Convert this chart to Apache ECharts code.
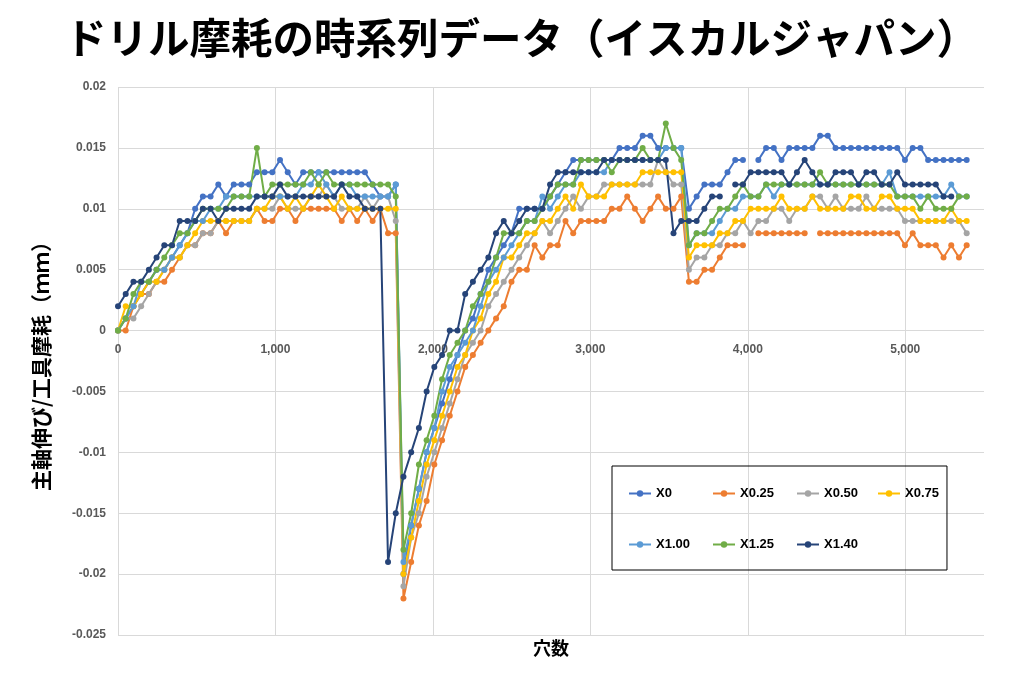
<!DOCTYPE html>
<html>
<head>
<meta charset="utf-8">
<script src="https://cdn.jsdelivr.net/npm/echarts@6/dist/echarts.min.js"></script>
<style>
html,body{margin:0;padding:0;background:#ffffff;}
#chart{width:1024px;height:682px;}
</style>
</head>
<body>
<div id="chart"></div>
<script>
// ---- data (hole count on x; wear values read in micrometres = 0.001 mm) ----
const holes = [
  0,49,98,147,196,245,294,343,392,441,
  490,539,588,637,686,735,784,833,882,931,
  980,1029,1078,1127,1176,1225,1274,1323,1372,1421,
  1470,1519,1568,1617,1666,1715,1764,1813,1862,1911,
  1960,2009,2058,2107,2156,2205,2254,2303,2352,2401,
  2450,2499,2548,2597,2646,2695,2744,2793,2842,2891,
  2940,2989,3038,3087,3136,3185,3234,3283,3332,3381,
  3430,3479,3528,3577,3626,3675,3724,3773,3822,3871,
  3920,3969,4018,4067,4116,4165,4214,4263,4312,4361,
  4410,4459,4508,4557,4606,4655,4704,4753,4802,4851,
  4900,4949,4998,5047,5096,5145,5194,5243,5292,5341,
  5390
];

const x0_um = [
  0,1,2,3,4,5,5,6,7,8,10,11,11,12,11,12,12,12,13,
  13,13,14,13,12,13,13,13,13,13,13,13,13,13,12,11,11,12,
  -20,-16,-13,-10,-8,-6,-4,-2,0,
  1,3,5,6,7,8,10,10,10,10,11,12,13,14,14,14,14,
  14,14,15,15,15,16,16,15,15,15,15,
  10,11,12,12,12,13,14,14,null,14,15,15,14,15,15,
  15,15,16,16,15,15,15,15,15,15,15,15,15,14,15,15,14,14,14,14,14,14
];
const x025_um = [
  0,0,2,3,3,4,4,5,6,7,7,8,8,9,8,9,9,9,10,
  9,9,10,10,9,10,10,10,10,10,9,10,9,10,9,10,8,8,
  -22,-19,-16,-14,-11,-9,-7,-5,-3,
  -2,-1,0,1,2,4,5,5,7,6,7,7,9,8,9,9,9,
  9,10,10,11,10,9,10,11,10,10,11,
  4,4,5,5,6,7,7,7,null,8,8,8,8,8,8,
  8,null,8,8,8,8,8,8,8,8,8,8,8,7,8,7,7,7,6,7,6,7
];
const x050_um = [
  0,1,1,2,3,4,5,6,6,7,7,8,8,9,9,9,9,9,10,
  10,10,11,10,10,10,11,11,12,11,10,10,10,11,10,11,11,9,
  -21,-17,-15,-12,-10,-8,-6,-4,-2,
  -1,0,2,3,4,5,6,7,8,9,8,9,10,11,10,11,11,
  12,12,12,12,12,12,12,14,13,12,12,
  5,6,6,7,7,8,8,9,8,9,9,10,10,9,10,
  10,11,11,10,11,10,10,10,11,10,10,10,10,9,9,9,9,9,9,9,9,8
];
const x075_um = [
  0,2,2,3,4,4,5,6,6,7,8,9,9,9,9,9,9,9,10,
  10,11,11,10,11,10,11,12,11,10,11,10,10,10,10,10,10,10,
  -20,-17,-14,-11,-9,-7,-5,-3,-2,
  0,1,3,4,6,6,7,8,8,9,9,10,11,10,12,11,11,
  11,12,12,12,12,13,13,13,13,13,13,
  6,7,7,7,8,8,9,9,10,10,10,10,11,10,10,
  10,11,10,10,10,10,11,11,10,10,11,11,10,10,10,9,9,9,9,10,9,9
];
const x100_um = [
  0,1,2,4,4,5,5,6,7,8,9,9,10,10,11,11,11,11,11,
  11,11,11,11,11,12,12,13,12,11,12,12,11,11,11,11,11,12,
  -19,-16,-13,-10,-8,-5,-3,-2,-1,
  0,2,4,5,6,7,8,9,9,11,10,11,12,12,13,13,13,
  13,14,14,14,14,14,14,14,15,15,15,
  7,8,8,8,9,10,10,11,11,11,12,11,12,12,12,
  12,12,12,12,12,12,12,12,12,12,12,13,11,11,11,11,11,11,11,12,11,11
];
const x125_um = [
  0,1,3,4,4,5,6,7,8,8,9,10,10,10,10,11,11,11,15,
  11,12,12,12,12,12,13,12,13,12,12,12,12,12,12,12,12,11,
  -18,-15,-11,-9,-7,-4,-2,-1,0,
  2,3,4,6,8,8,8,9,9,10,11,12,12,12,14,14,14,
  14,13,14,14,14,15,14,14,17,15,14,
  7,8,8,9,10,10,11,12,11,11,12,12,12,12,12,
  12,12,13,12,12,12,12,12,12,12,12,12,11,11,11,10,11,10,10,10,11,11
];
const x140_um = [
  2,3,4,4,5,6,7,7,9,9,9,10,10,9,10,10,10,10,11,
  11,11,12,11,11,11,11,11,11,11,12,11,11,10,10,10,-19,-15,
  -12,-10,-8,-5,-3,-2,0,0,3,
  4,5,6,8,9,8,9,10,10,10,12,13,13,13,13,13,13,
  14,14,14,14,14,14,14,14,14,8,9,
  9,9,10,11,11,null,12,12,13,13,13,13,13,12,13,
  14,13,12,12,13,13,13,12,13,13,12,12,13,12,12,12,12,12,11,11,null,null
];

const seriesNames = ['X0','X0.25','X0.50','X0.75','X1.00','X1.25','X1.40'];
const seriesColors = ['#4472C4','#ED7D31','#A5A5A5','#FFC000','#5B9BD5','#70AD47','#264478'];
const seriesValues = [x0_um, x025_um, x050_um, x075_um, x100_um, x125_um, x140_um];
// legend columns (two rows, as in the reference legend box)
const legendColumns = [['X0','X1.00'], ['X0.25','X1.25'], ['X0.50','X1.40'], ['X0.75']];

const xTicks = { min: 0, max: 5500, interval: 1000 };
const yTicks = { min: -0.025, max: 0.02, interval: 0.005 };

const labelFont = 'Liberation Sans, Arial, sans-serif';
const cjkFont = '"Noto Sans CJK JP", sans-serif';

const series = seriesNames.map((name, k) => ({
  name: name,
  type: 'line',
  data: holes.map((h, i) => [h, seriesValues[k][i] == null ? null : seriesValues[k][i] / 1000]),
  symbol: 'circle',
  symbolSize: 6,
  showSymbol: true,
  connectNulls: false,
  lineStyle: { color: seriesColors[k], width: 2 },
  itemStyle: { color: seriesColors[k] },
  emphasis: { disabled: true }
}));

const legendTextStyle = { fontFamily: labelFont, fontWeight: 'bold', fontSize: 13, color: '#000000' };
const legendLefts = [612, 712, 796, 877];
const legends = legendColumns.map((names, c) => {
  const base = {
    data: names,
    orient: 'vertical',
    left: legendLefts[c],
    top: c === 0 ? 466 : 487,
    itemWidth: 22, itemHeight: 8, itemGap: 38,
    textStyle: legendTextStyle
  };
  if (c === 0) {
    base.padding = [21, 257, 19, 16];
    base.borderColor = '#000000';
    base.borderWidth = 1;
  } else {
    base.padding = 0;
  }
  return base;
});

const chart = echarts.init(document.getElementById('chart'), null, { renderer: 'canvas' });
chart.setOption({
  animation: false,
  backgroundColor: '#ffffff',
  title: {
    text: 'ドリル摩耗の時系列データ（イスカルジャパン）',
    left: 60,
    top: 12,
    textStyle: { fontFamily: cjkFont, fontSize: 41.5, fontWeight: 'bold', color: '#000000' }
  },
  grid: { left: 118, right: 40, top: 87, bottom: 47, containLabel: false, outerBoundsMode: 'none' },
  legend: legends,
  xAxis: {
    type: 'value',
    position: 'bottom',
    min: xTicks.min, max: xTicks.max, interval: xTicks.interval,
    name: '穴数',
    nameLocation: 'middle',
    nameGap: 4,
    nameMoveOverlap: false,
    nameTextStyle: { fontFamily: cjkFont, fontSize: 18, fontWeight: 'bold', color: '#000000', verticalAlign: 'top' },
    axisLine: { show: false, onZero: false },
    axisTick: { show: false },
    // labels sit just under the zero line, as in the reference
    axisLabel: { fontFamily: labelFont, fontSize: 12, fontWeight: 'bold', color: '#595959', margin: -291, showMaxLabel: false },
    splitLine: { show: true, lineStyle: { color: ['#d9d9d9','#d9d9d9','#d9d9d9','#d9d9d9','#d9d9d9','#d9d9d9','rgba(0,0,0,0)'], width: 1 } }
  },
  yAxis: {
    type: 'value',
    min: yTicks.min, max: yTicks.max, interval: yTicks.interval,
    name: '主軸伸び/工具摩耗（ｍｍ）',
    nameLocation: 'middle',
    nameGap: 66,
    nameRotate: 90,
    nameTextStyle: { fontFamily: cjkFont, fontSize: 21, fontWeight: 'bold', color: '#000000' },
    axisLine: { show: false, onZero: false },
    axisTick: { show: false },
    axisLabel: { fontFamily: labelFont, fontSize: 12, fontWeight: 'bold', color: '#595959', margin: 12 },
    splitLine: { show: true, lineStyle: { color: '#d9d9d9', width: 1 } }
  },
  series: series
});
</script>
</body>
</html>
